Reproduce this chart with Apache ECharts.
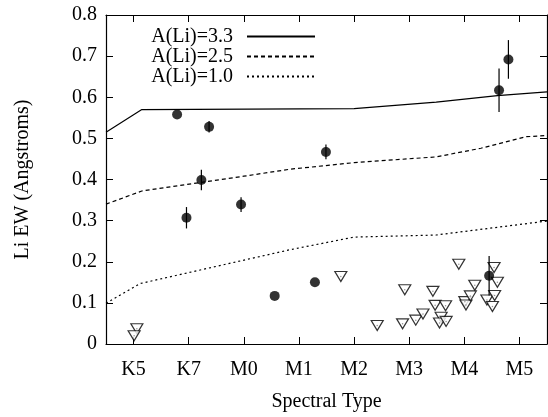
<!DOCTYPE html>
<html><head><meta charset="utf-8">
<script src="https://cdn.jsdelivr.net/npm/echarts@6/dist/echarts.min.js"></script>
<style>html,body{margin:0;padding:0;background:#fff}#c{width:548px;height:417px}</style>
</head><body><div id="c"></div>
<script>
const tickLabels = ['K5','K7','M0','M1','M2','M3','M4','M5'];
const yTicks = [0,0.1,0.2,0.3,0.4,0.5,0.6,0.7,0.8];
const model33 = [[-0.5,0.515],[0.15,0.570],[4.0,0.5725],[5.49,0.588],[6.6,0.604],[7.5,0.613]];
const model25 = [[-0.5,0.340],[0.15,0.372],[2.0,0.408],[2.84,0.425],[4.0,0.441],[5.49,0.455],[6.3,0.476],[7.12,0.504],[7.5,0.507]];
const model10 = [[-0.5,0.099],[0.12,0.147],[2.83,0.229],[4.0,0.260],[5.49,0.265],[7.5,0.299]];
const detX = [0.79,1.37,1.23,0.96,1.95,2.56,3.29,3.49,6.45,6.63,6.80];
const detY = [0.558,0.528,0.399,0.307,0.339,0.117,0.150,0.467,0.166,0.617,0.692];
const detErr = [0,0.014,0.025,0.026,0.018,0,0,0.018,0.048,0.053,0.047];
const limX = [0.06,0.01,3.76,4.42,4.88,4.92,5.12,5.25,5.43,5.47,5.66,5.58,5.55,5.67,5.90,6.01,6.03,6.11,6.19,6.41,6.54,6.60,6.55,6.51];
const limY = [0.037,0.020,0.164,0.045,0.049,0.132,0.058,0.073,0.128,0.094,0.093,0.065,0.051,0.055,0.194,0.103,0.095,0.117,0.143,0.107,0.186,0.150,0.118,0.091];

const FONT = 'Liberation Serif';
const chart = echarts.init(document.getElementById('c'), null, {renderer:'canvas'});
const detData = detX.map((x,i)=>[x,detY[i]]);
const errData = detX.map((x,i)=>[x,detY[i],detErr[i]]).filter(d=>d[2]>0);
const limData = limX.map((x,i)=>[x,limY[i]]);
const tickCommon = {show:true, inside:true, length:7, alignWithLabel:true, lineStyle:{color:'#000',width:1}};
const lineCommon = {show:true, onZero:false, lineStyle:{color:'#000',width:1.2}};
chart.setOption({
  animation:false,
  backgroundColor:'#fff',
  textStyle:{fontFamily:FONT,color:'#000'},
  grid:{left:106,right:1,top:15,bottom:65.5,containLabel:false},
  legend:{
    data:['A(Li)=3.3','A(Li)=2.5','A(Li)=1.0'],
    orient:'vertical', align:'right', right:232, top:26.5, padding:0,
    itemWidth:68, itemHeight:6, itemGap:0,
    itemStyle:{opacity:0},
    textStyle:{fontFamily:FONT,fontSize:20,color:'#000',lineHeight:19.5,padding:[0,9,0,0]},
    selectedMode:false
  },
  xAxis:[
    {type:'value',min:-0.5,max:7.5,show:false,gridIndex:0},
    {type:'category',data:tickLabels,position:'bottom',boundaryGap:true,
     axisLine:lineCommon,axisTick:tickCommon,
     axisLabel:{fontFamily:FONT,fontSize:20,color:'#000',margin:16},
     splitLine:{show:false},
     name:'Spectral Type',nameLocation:'middle',nameGap:48,
     nameTextStyle:{fontFamily:FONT,fontSize:20,color:'#000'}},
    {type:'category',data:tickLabels,position:'top',boundaryGap:true,
     axisLine:lineCommon,axisTick:tickCommon,axisLabel:{show:false},splitLine:{show:false}}
  ],
  yAxis:[
    {type:'value',min:0,max:0.8,interval:0.1,position:'left',
     axisLine:lineCommon,axisTick:{show:true,inside:true,length:7,lineStyle:{color:'#000'}},
     axisLabel:{fontFamily:FONT,fontSize:20,color:'#000',margin:9,
       formatter:v=>Math.abs(v)<1e-9?'0':v.toFixed(1)},
     splitLine:{show:false},
     name:'Li EW (Angstroms)',nameLocation:'middle',nameRotate:90,nameGap:73,
     nameTextStyle:{fontFamily:FONT,fontSize:20,color:'#000'}},
    {type:'value',min:0,max:0.8,interval:0.1,position:'right',
     axisLine:lineCommon,axisTick:{show:true,inside:true,length:7,lineStyle:{color:'#000'}},
     axisLabel:{show:false},splitLine:{show:false}}
  ],
  series:[
    {name:'A(Li)=3.3',type:'line',data:model33,xAxisIndex:0,yAxisIndex:0,symbol:'none',
     lineStyle:{color:'#000',width:1.2,type:'solid'},itemStyle:{color:'#000'},z:2},
    {name:'A(Li)=2.5',type:'line',data:model25,xAxisIndex:0,yAxisIndex:0,symbol:'none',
     lineStyle:{color:'#000',width:1.2,type:[4,3]},itemStyle:{color:'#000'},z:2},
    {name:'A(Li)=1.0',type:'line',data:model10,xAxisIndex:0,yAxisIndex:0,symbol:'none',
     lineStyle:{color:'#000',width:1.2,type:[2,3]},itemStyle:{color:'#000'},z:2},
    {name:'limits',type:'scatter',data:limData,xAxisIndex:0,yAxisIndex:0,
     symbol:'triangle',symbolRotate:180,symbolSize:[12,10],
     itemStyle:{color:'#fff',borderColor:'#000',borderWidth:1.2},z:3},
    {name:'limitdots',type:'scatter',data:limData,xAxisIndex:0,yAxisIndex:0,
     symbol:'circle',symbolSize:1.5,itemStyle:{color:'#777'},z:4},
    {name:'errors',type:'custom',data:errData,xAxisIndex:0,yAxisIndex:0,z:5,
     renderItem:function(params,api){
       const x=api.value(0), y=api.value(1), e=api.value(2);
       const p1=api.coord([x,y+e]), p2=api.coord([x,y-e]);
       return {type:'line',shape:{x1:p1[0],y1:p1[1],x2:p2[0],y2:p2[1]},
         style:{stroke:'#000',lineWidth:1.2}};
     }},
    {name:'detections',type:'scatter',data:detData,xAxisIndex:0,yAxisIndex:0,
     symbol:'circle',symbolSize:10,itemStyle:{color:'#000'},z:6}
  ]
});
</script></body></html>
